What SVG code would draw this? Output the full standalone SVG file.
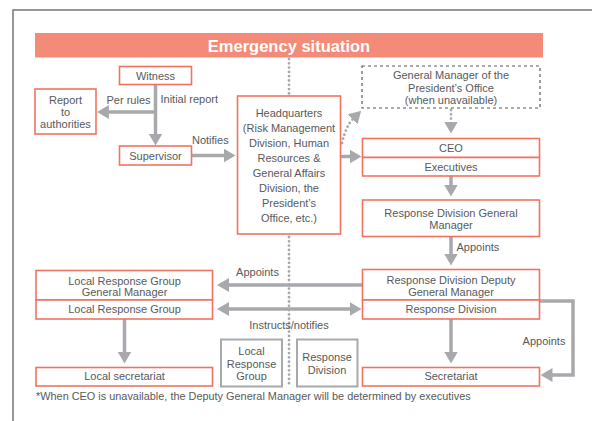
<svg xmlns="http://www.w3.org/2000/svg" width="592" height="421" viewBox="0 0 592 421">
<style>
text{font-family:"Liberation Sans",Arial,sans-serif;font-size:11px;fill:#58595b}
.c{text-anchor:middle}
.box{fill:#fff;stroke:#f07361;stroke-width:1.6}
.dash{fill:#fff;stroke:#58595b;stroke-width:1.2;stroke-dasharray:3 3}
.gbox{fill:#fff;stroke:#a7a9ac;stroke-width:2}
.ar{fill:none;stroke:#a7a9ac;stroke-width:3.5}
.dot{fill:none;stroke:#a7a9ac;stroke-width:2.8;stroke-linecap:round;stroke-dasharray:0 4.3}
</style>
<defs>
<marker id="ah" viewBox="0 0 12 14" refX="0.5" refY="7" markerWidth="12" markerHeight="14" markerUnits="userSpaceOnUse" orient="auto-start-reverse">
<path d="M0,0 L12,7 L0,14 Z" fill="#a7a9ac"/>
</marker>
</defs>
<path d="M13,421 V10 H592" fill="none" stroke="#777" stroke-width="1.5"/>
<g id="banner">
<rect x="35" y="33" width="508" height="24.5" fill="#f48b79"/>
<text x="289" y="51.5" class="c" style="font-size:16.5px;font-weight:bold;fill:#fff">Emergency situation</text>
</g>
<g id="connectors">
<path class="dot" d="M289,59 V95"/>
<path class="dot" d="M289,237 V384"/>
<path class="dot" d="M451,110 V122" marker-end="url(#ah)"/>
<path class="dot" d="M342,143 Q346,126 353,119" marker-end="url(#ah)"/>
<path class="ar" d="M155.5,84.5 V134" marker-end="url(#ah)"/>
<path class="ar" d="M157,112 H108.5" marker-end="url(#ah)"/>
<path class="ar" d="M192,155.5 H224" marker-end="url(#ah)"/>
<path class="ar" d="M341,156.5 H350" marker-end="url(#ah)"/>
<path class="ar" d="M451,176 V185" marker-end="url(#ah)"/>
<path class="ar" d="M451,237 V254" marker-end="url(#ah)"/>
<path class="ar" d="M451,319 V352" marker-end="url(#ah)"/>
<path class="ar" d="M540,301 H573 V375 H552" marker-end="url(#ah)"/>
<path class="ar" d="M362,285 H228.5" marker-end="url(#ah)"/>
<path class="ar" d="M228.5,309 H350" marker-start="url(#ah)" marker-end="url(#ah)"/>
<path class="ar" d="M124.5,319 V352" marker-end="url(#ah)"/>
<text x="128.5" y="104" class="c">Per rules</text>
<text x="160.5" y="103">Initial report</text>
<text x="192" y="144">Notifies</text>
<text x="456.5" y="251">Appoints</text>
<text x="544" y="345" class="c">Appoints</text>
<text x="257.5" y="276" class="c">Appoints</text>
<text x="289" y="329" class="c">Instructs/notifies</text>
</g>
<g id="witness">
<rect class="box" x="119.5" y="66.5" width="72" height="18"/>
<text x="155.5" y="79.5" class="c">Witness</text>
</g>
<g id="report">
<rect class="box" x="35" y="89" width="61" height="45"/>
<text x="65.5" y="104" class="c">Report</text>
<text x="65.5" y="116" class="c">to</text>
<text x="65.5" y="128" class="c">authorities</text>
</g>
<g id="supervisor">
<rect class="box" x="119.5" y="146" width="72" height="19"/>
<text x="155.5" y="159.5" class="c">Supervisor</text>
</g>
<g id="hq">
<rect class="box" x="237.5" y="96" width="103" height="138"/>
<text x="289" y="117" class="c">Headquarters</text>
<text x="289" y="132" class="c">(Risk Management</text>
<text x="289" y="147" class="c">Division, Human</text>
<text x="289" y="162" class="c">Resources &amp;</text>
<text x="289" y="177" class="c">General Affairs</text>
<text x="289" y="192" class="c">Division, the</text>
<text x="289" y="207" class="c">President’s</text>
<text x="289" y="222" class="c">Office, etc.)</text>
</g>
<g id="gm-office">
<rect class="dash" x="362" y="66" width="178" height="42"/>
<text x="451" y="79" class="c">General Manager of the</text>
<text x="451" y="91.5" class="c">President’s Office</text>
<text x="451" y="104" class="c">(when unavailable)</text>
</g>
<g id="ceo">
<rect class="box" x="362.5" y="138.5" width="177" height="19"/>
<text x="451" y="151.5" class="c">CEO</text>
</g>
<g id="executives">
<rect class="box" x="362.5" y="157.5" width="177" height="18.5"/>
<text x="451" y="171" class="c">Executives</text>
</g>
<g id="rd-gm">
<rect class="box" x="362.5" y="200" width="177" height="36.5"/>
<text x="451" y="217" class="c">Response Division General</text>
<text x="451" y="229" class="c">Manager</text>
</g>
<g id="rd-deputy">
<rect class="box" x="362.5" y="269.5" width="177" height="30.5"/>
<text x="451" y="284" class="c">Response Division Deputy</text>
<text x="451" y="296" class="c">General Manager</text>
</g>
<g id="response-division">
<rect class="box" x="362.5" y="300" width="177" height="19"/>
<text x="451" y="313" class="c">Response Division</text>
</g>
<g id="secretariat">
<rect class="box" x="362.5" y="367.5" width="177" height="18.5"/>
<text x="451" y="380" class="c">Secretariat</text>
</g>
<g id="lrg-gm">
<rect class="box" x="36" y="270.5" width="176.5" height="29.5"/>
<text x="124.5" y="284.5" class="c">Local Response Group</text>
<text x="124.5" y="296" class="c">General Manager</text>
</g>
<g id="lrg">
<rect class="box" x="36" y="300" width="176.5" height="19"/>
<text x="124.5" y="313" class="c">Local Response Group</text>
</g>
<g id="local-secretariat">
<rect class="box" x="36" y="367.5" width="176.5" height="18.5"/>
<text x="124.5" y="380" class="c">Local secretariat</text>
</g>
<g id="legend-lrg">
<rect class="gbox" x="221" y="339.5" width="61" height="47"/>
<text x="251.5" y="355" class="c">Local</text>
<text x="251.5" y="367.5" class="c">Response</text>
<text x="251.5" y="380" class="c">Group</text>
</g>
<g id="legend-rd">
<rect class="gbox" x="297" y="339.5" width="60.5" height="47"/>
<text x="327" y="360.5" class="c">Response</text>
<text x="327" y="374" class="c">Division</text>
</g>
<text x="36" y="400" style="font-size:10.9px">*When CEO is unavailable, the Deputy General Manager will be determined by executives</text>
</svg>
